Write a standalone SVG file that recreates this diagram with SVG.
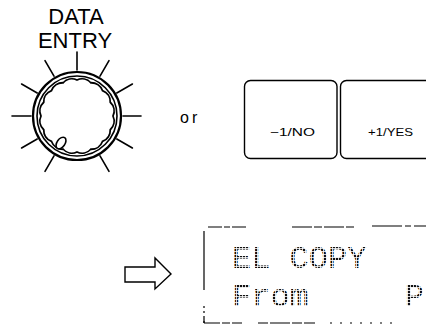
<svg xmlns="http://www.w3.org/2000/svg" width="426" height="325" viewBox="0 0 426 325">
  <style>
    .lbl { font-family: "Liberation Sans", Arial, sans-serif; fill: #000; }
    .tick { stroke: #000; stroke-width: 1.6; stroke-linecap: round; }
    .btn { fill: #fff; stroke: #000; stroke-width: 1.4; }
    .lcd { font-family: "Liberation Mono", "DejaVu Sans Mono", monospace; font-size: 32px; fill: url(#dots); }
    .frame { stroke: #000; stroke-width: 1.2; fill: none; }
  </style>
  <defs>
    <pattern id="dots" patternUnits="userSpaceOnUse" width="3" height="3">
      <rect width="2.2" height="2.2" fill="#111"/>
    </pattern>
  </defs>
  <rect width="426" height="325" fill="#fff"/>

  <g id="knob">
    <text class="lbl" x="76" y="24" font-size="22" text-anchor="middle">DATA</text>
    <text class="lbl" x="75" y="48" font-size="22" text-anchor="middle">ENTRY</text>
    <g class="ticks">
      <line class="tick" x1="123" y1="116" x2="141" y2="116"/>
      <line class="tick" x1="116.8" y1="139" x2="132.4" y2="148"/>
      <line class="tick" x1="100" y1="155.8" x2="109" y2="171.4"/>
      <line class="tick" x1="54" y1="155.8" x2="45" y2="171.4"/>
      <line class="tick" x1="37.2" y1="139" x2="21.6" y2="148"/>
      <line class="tick" x1="31" y1="116" x2="12" y2="116"/>
      <line class="tick" x1="37.2" y1="93" x2="21.6" y2="84"/>
      <line class="tick" x1="54" y1="76.2" x2="45" y2="60.6"/>
      <line class="tick" x1="77" y1="70" x2="77" y2="52"/>
      <line class="tick" x1="100" y1="76.2" x2="109" y2="60.6"/>
      <line class="tick" x1="116.8" y1="93" x2="132.4" y2="84"/>
    </g>
    <circle cx="77" cy="116" r="44" fill="#fff" stroke="#000" stroke-width="2.2"/>
    <circle cx="77" cy="116" r="40" fill="none" stroke="#000" stroke-width="1.6"/>
    <path fill="none" stroke="#000" stroke-width="1.8" d="M113,116 A12,12 0 0 1 110.26,129.78 A12,12 0 0 1 102.46,141.46 A12,12 0 0 1 90.78,149.26 A12,12 0 0 1 77,152 A12,12 0 0 1 63.22,149.26 A12,12 0 0 1 51.54,141.46 A12,12 0 0 1 43.74,129.78 A12,12 0 0 1 41,116 A12,12 0 0 1 43.74,102.22 A12,12 0 0 1 51.54,90.54 A12,12 0 0 1 63.22,82.74 A12,12 0 0 1 77,80 A12,12 0 0 1 90.78,82.74 A12,12 0 0 1 102.46,90.54 A12,12 0 0 1 110.26,102.22 A12,12 0 0 1 113,116 Z"/>
    <ellipse cx="61" cy="143" rx="4" ry="6.5" transform="rotate(35 61 143)" fill="#fff" stroke="#000" stroke-width="1.6"/>
  </g>

  <g id="or-label">
    <text class="lbl" x="180" y="123" font-size="16" letter-spacing="3">or</text>
  </g>

  <g id="btn-no">
    <rect class="btn" x="244.5" y="80.5" width="92.5" height="78" rx="6"/>
    <text class="lbl" x="270" y="136" font-size="11" textLength="45" lengthAdjust="spacingAndGlyphs">−1/NO</text>
  </g>

  <g id="btn-yes">
    <rect class="btn" x="340.5" y="80.5" width="100" height="78" rx="6"/>
    <text class="lbl" x="368" y="136" font-size="11" textLength="45" lengthAdjust="spacingAndGlyphs">+1/YES</text>
  </g>

  <g id="arrow">
    <path d="M125,267 L155,267 L155,258 L171,274 L155,289 L155,282 L125,282 Z" fill="#fff" stroke="#000" stroke-width="1.4" stroke-linejoin="miter"/>
  </g>

  <g id="display">
    <line class="frame" x1="204" y1="231" x2="204" y2="290"/>
    <line class="frame" x1="204" y1="306" x2="204" y2="323" stroke-dasharray="2 3"/>
    <line class="frame" x1="204" y1="318" x2="204" y2="323"/>
    <line class="frame" x1="208" y1="227" x2="246" y2="227" stroke-dasharray="14 2 6 2"/>
    <line class="frame" x1="292" y1="227" x2="355" y2="227" stroke-dasharray="20 2 8 2"/>
    <line class="frame" x1="372" y1="226" x2="426" y2="226" stroke-dasharray="30 3 6 3"/>
    <line class="frame" x1="204" y1="323" x2="242" y2="323" stroke-dasharray="16 2 8 2"/>
    <line class="frame" x1="258" y1="323" x2="315" y2="323" stroke-dasharray="10 2 20 2"/>
    <line class="frame" x1="330" y1="323" x2="400" y2="323" stroke-dasharray="2 8"/>
    <text class="lcd" x="232" y="268">EL COPY</text>
    <text class="lcd" x="232" y="306" xml:space="preserve">From     P</text>
  </g>
</svg>
